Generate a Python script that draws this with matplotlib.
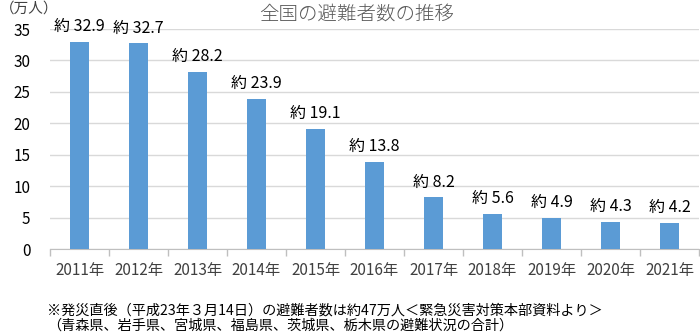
import matplotlib.pyplot as plt
import numpy as np

plt.rcParams['font.family'] = ['Noto Sans CJK JP', 'DejaVu Sans']

# Data
years = ["2011年", "2012年", "2013年", "2014年", "2015年", "2016年",
         "2017年", "2018年", "2019年", "2020年", "2021年"]
evacuees = [32.9, 32.7, 28.2, 23.9, 19.1, 13.8, 8.2, 5.6, 4.9, 4.3, 4.2]
yticks = [0, 5, 10, 15, 20, 25, 30, 35]

fig = plt.figure(figsize=(7, 3.34), dpi=100)
ax = fig.add_axes([50 / 700, 85 / 334, 649 / 700, 220 / 334])

x = np.arange(len(years))
ax.bar(x, evacuees, width=0.32, color="#5B9BD5", zorder=3)

for xi, v in zip(x, evacuees):
    ax.text(xi, v + 1.1, f"約 {v}", ha="center", va="bottom", fontsize=11.5, color="black")

ax.set_xlim(-0.5, len(years) - 0.5)
ax.set_ylim(0, 35)
ax.set_yticks(yticks)
ax.set_yticklabels([str(t) for t in yticks], fontsize=11)
ax.yaxis.grid(True, color="#D9D9D9", linewidth=1, zorder=0)
ax.tick_params(axis="y", length=0, pad=14)

ax.set_xticks(x)
ax.set_xticklabels(years, fontsize=11, color="#404040")
ax.tick_params(axis="x", length=0, pad=9)
ax.set_xticks(np.arange(-0.5, len(years)), minor=True)
ax.tick_params(axis="x", which="minor", length=5, color="#BFBFBF", width=1)

for s in ["top", "right", "left"]:
    ax.spines[s].set_visible(False)
ax.spines["bottom"].set_color("#BFBFBF")

fig.text(357 / 700, 1 - 14 / 334, "全国の避難者数の推移", ha="center", va="center",
         fontsize=14, color="#595959", fontweight="light")
fig.text(0, 1 - 9 / 334, "（万人）", ha="left", va="center", fontsize=10.5,
         color="#404040")

fig.text(47 / 700, 1 - 311 / 334,
         "※発災直後（平成23年３月14日）の避難者数は約47万人＜緊急災害対策本部資料より＞",
         ha="left", va="center", fontsize=10.2, color="black")
fig.text(47 / 700, 1 - 326 / 334,
         "（青森県、岩手県、宮城県、福島県、茨城県、栃木県の避難状況の合計）",
         ha="left", va="center", fontsize=10.2, color="black")

fig.savefig("out.png", dpi=100)
